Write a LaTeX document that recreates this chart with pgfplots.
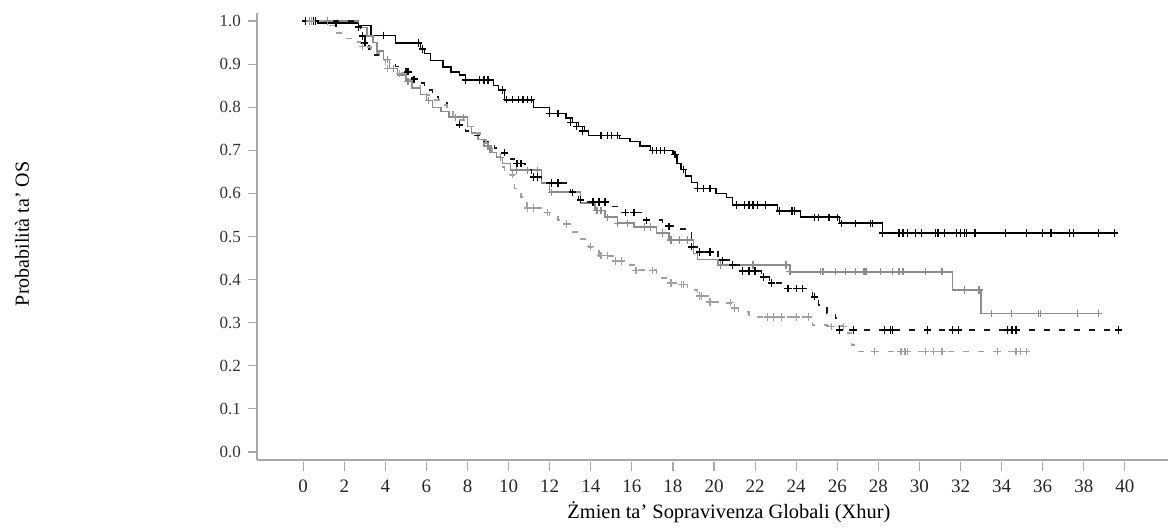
\documentclass[border=0pt]{standalone}
\usepackage{fontspec}
\setmainfont{Liberation Serif}
\usepackage{pgfplots}
\pgfplotsset{compat=1.18}

\definecolor{axisgray}{HTML}{A8A8A8}
\definecolor{curvegray}{HTML}{8C8C8C}
\definecolor{dashgray}{HTML}{A0A0A0}

\begin{document}
\begin{tikzpicture}
\useasboundingbox (-128.5pt,-35pt) rectangle (455.5pt,230pt);
\begin{axis}[
    at={(0,0)}, anchor=south west,
    scale only axis,
    width=455.5pt, height=223.5pt,
    xmin=-2.25, xmax=42.1,
    ymin=-0.0186, ymax=1.0186,
    axis x line*=bottom,
    axis y line*=left,
    axis line style={axisgray, line width=0.7pt},
    xtick={0,2,...,40},
    ytick={0,0.1,...,1.0},
    tick align=outside,
    major tick length=4.5pt,
    tick style={axisgray, line width=0.6pt},
    xtick style={yshift=-1.2pt},
    /pgf/number format/assume math mode=true,
    yticklabel style={/pgf/number format/.cd, fixed, fixed zerofill, precision=1,
        /tikz/.cd, font=\fontsize{8.5}{10}\selectfont, text=black!80},
    xticklabel style={font=\fontsize{9.5}{10}\selectfont, text=black!85, yshift=-2pt},
    xlabel={Żmien ta' Sopravivenza Globali (Xhur)},
    ylabel={Probabilità ta' OS},
    xlabel style={at={(axis description cs:0.518,-0.1163)}, anchor=center,
        font=\fontsize{10.2}{12}\selectfont},
    ylabel style={at={(axis description cs:-0.258,0.506)}, anchor=center,
        font=\fontsize{10}{12}\selectfont},
    clip=false,
]
% black solid
\addplot[const plot, black, line width=0.7pt] coordinates {
(0,1.0) (0.7,0.995) (2.7,0.99) (3.3,0.967) (4.5,0.949) (5.7,0.935) (5.9,0.925)
(6.2,0.909) (6.8,0.893) (7.2,0.882) (7.6,0.875) (7.9,0.863) (9.25,0.851) (9.5,0.84)
(9.8,0.817) (11.2,0.80) (12.0,0.786) (12.8,0.775) (13.1,0.765) (13.4,0.755)
(13.7,0.745) (13.9,0.735) (15.4,0.728) (15.9,0.72) (16.4,0.71) (16.9,0.70)
(18.0,0.69) (18.2,0.67) (18.4,0.655) (18.6,0.64) (18.9,0.625) (19.2,0.612)
(20.1,0.60) (20.6,0.59) (20.9,0.573) (23.1,0.559) (24.2,0.545) (26.1,0.531)
(28.2,0.508) (39.6,0.508)};
\addplot[only marks, mark=+, mark size=1.8pt, black, line width=0.6pt] coordinates {
(0.1,1) (0.6,1) (1.6,0.995) (3.9,0.967) (5.6,0.949) (5.8,0.935) (7.9,0.863)
(8.6,0.863) (8.8,0.863) (9.0,0.863) (9.7,0.84) (9.9,0.817) (10.2,0.817) (10.5,0.817)
(10.7,0.817) (10.9,0.817) (11.1,0.817) (12.0,0.786) (12.4,0.786) (13.0,0.765)
(13.3,0.755) (13.6,0.745) (14.5,0.735) (14.8,0.735) (15.0,0.735) (15.3,0.735)
(17.0,0.70) (17.2,0.70) (17.4,0.70) (17.6,0.70) (18.1,0.69) (18.5,0.655)
(19.2,0.612) (19.5,0.612) (19.8,0.612) (21.1,0.573) (21.5,0.573) (21.7,0.573)
(21.9,0.573) (22.1,0.573) (22.5,0.573) (23.2,0.559) (23.8,0.559) (23.9,0.559)
(24.9,0.545) (25.1,0.545) (25.6,0.545) (26.0,0.545) (26.2,0.531) (26.9,0.531)
(27.6,0.531) (27.7,0.531) (28.2,0.508) (29.0,0.508) (29.2,0.508) (29.4,0.508)
(29.8,0.508) (30.1,0.508) (30.8,0.508) (30.9,0.508) (31.2,0.508) (31.8,0.508)
(32.0,0.508) (32.2,0.508) (32.3,0.508) (32.7,0.508) (34.2,0.508) (35.2,0.508)
(36.0,0.508) (36.4,0.508) (37.3,0.508) (37.5,0.508) (38.7,0.508) (39.5,0.508)};
% gray solid
\addplot[const plot, curvegray, line width=0.7pt] coordinates {
(0,1.0) (2.7,0.985) (3.1,0.965) (3.4,0.95) (3.6,0.93) (3.9,0.91) (4.2,0.89)
(4.6,0.875) (5.0,0.86) (5.3,0.845) (5.7,0.83) (6.0,0.815) (6.3,0.80) (6.7,0.79)
(7.1,0.777) (8.0,0.755) (8.2,0.74) (8.5,0.725) (8.8,0.71) (9.1,0.695) (9.4,0.683)
(9.7,0.67) (10.1,0.654) (11.6,0.624) (12.0,0.603) (13.5,0.578) (14.2,0.56)
(14.7,0.545) (15.3,0.531) (16.1,0.522) (17.2,0.508) (17.8,0.492) (19.0,0.46)
(19.2,0.447) (20.2,0.434) (23.7,0.418) (31.6,0.376) (33.0,0.322) (38.8,0.322)};
\addplot[only marks, mark=+, mark size=1.8pt, curvegray, line width=0.6pt] coordinates {
(0.3,1) (1.2,1) (4.1,0.91) (4.4,0.89) (5.1,0.86) (6.1,0.815) (7.4,0.777) (7.8,0.777)
(9.0,0.71) (9.6,0.683) (10.4,0.654) (10.9,0.654) (11.4,0.654) (12.1,0.603)
(13.1,0.603) (14.3,0.56) (14.5,0.56) (14.8,0.545) (15.3,0.531) (15.8,0.531)
(16.6,0.522) (16.9,0.522) (17.5,0.508) (17.9,0.492) (18.3,0.492) (18.7,0.492)
(20.3,0.434) (20.9,0.434) (21.9,0.434) (23.5,0.434) (23.7,0.418) (25.2,0.418)
(25.3,0.418) (25.9,0.418) (26.4,0.418) (26.9,0.418) (27.3,0.418) (27.4,0.418)
(28.1,0.418) (28.7,0.418) (29.0,0.418) (29.2,0.418) (30.3,0.418) (31.1,0.418)
(32.2,0.376) (32.9,0.376) (33.5,0.322) (34.5,0.322) (35.8,0.322) (35.9,0.322)
(37.7,0.322) (38.7,0.322)};
% black dashed
\addplot[const plot, black!90, line width=0.7pt, dash pattern=on 3pt off 4.5pt] coordinates {
(0,1.0) (2.5,0.986) (2.8,0.965) (3.0,0.949) (3.2,0.935) (3.4,0.921) (3.9,0.91)
(4.5,0.895) (5.0,0.882) (5.3,0.865) (5.5,0.856) (5.9,0.84) (6.3,0.824) (6.6,0.81)
(7.0,0.795) (7.3,0.775) (7.6,0.759) (7.9,0.745) (8.2,0.735) (8.7,0.72) (9.3,0.705)
(9.7,0.694) (10.0,0.68) (10.3,0.67) (10.8,0.655) (11.1,0.638) (11.6,0.624)
(13.0,0.603) (13.4,0.585) (13.8,0.58) (15.0,0.569) (15.5,0.555) (16.6,0.538)
(17.5,0.524) (18.2,0.517) (18.6,0.508) (18.9,0.476) (19.2,0.464) (20.2,0.445)
(20.8,0.434) (21.3,0.42) (22.3,0.406) (22.7,0.392) (23.5,0.38) (24.8,0.36)
(25.1,0.341) (25.5,0.322) (25.9,0.311) (26.1,0.283) (39.7,0.283)};
\addplot[only marks, mark=+, mark size=1.8pt, black, line width=0.7pt] coordinates {
(0.5,1) (2.7,0.986) (2.9,0.965) (3.0,0.949) (5.1,0.882) (5.4,0.865) (7.6,0.759)
(9.8,0.694) (10.4,0.67) (10.6,0.67) (11.2,0.638) (11.4,0.638) (12.1,0.624)
(12.4,0.624) (13.1,0.603) (13.5,0.585) (14.1,0.58) (14.4,0.58) (14.7,0.58)
(15.7,0.555) (16.1,0.555) (16.7,0.538) (17.8,0.524) (18.9,0.476) (19.3,0.464)
(19.8,0.464) (20.4,0.445) (20.9,0.434) (21.4,0.42) (21.7,0.42) (22.0,0.42)
(22.4,0.406) (22.8,0.392) (23.6,0.38) (24.0,0.38) (24.3,0.38) (24.9,0.36)
(26.1,0.283) (26.8,0.283) (28.3,0.283) (28.6,0.283) (28.7,0.283) (30.4,0.283)
(31.6,0.283) (31.9,0.283) (34.3,0.283) (34.5,0.283) (34.7,0.283) (39.7,0.283)};
% gray dashed
\addplot[const plot, dashgray, line width=0.7pt, dash pattern=on 3pt off 4.5pt] coordinates {
(0,1.0) (1.1,0.99) (1.6,0.972) (2.0,0.96) (2.4,0.951) (2.8,0.94) (3.3,0.926)
(3.7,0.909) (4.0,0.89) (4.6,0.879) (5.0,0.863) (5.4,0.85) (5.7,0.84) (6.0,0.828)
(6.3,0.817) (6.7,0.805) (7.0,0.793) (7.3,0.78) (7.5,0.77) (7.9,0.755) (8.3,0.74)
(8.6,0.725) (8.9,0.708) (9.2,0.684) (9.6,0.661) (9.8,0.65) (10.1,0.643)
(10.3,0.612) (10.6,0.592) (10.9,0.566) (11.8,0.555) (12.0,0.545) (12.4,0.538)
(12.7,0.529) (13.1,0.51) (13.5,0.494) (13.9,0.476) (14.4,0.455) (15.1,0.443)
(15.8,0.434) (16.1,0.422) (17.2,0.404) (17.8,0.392) (18.3,0.388) (18.7,0.376)
(19.2,0.362) (19.7,0.348) (20.2,0.346) (20.9,0.334) (21.2,0.325) (21.7,0.313)
(24.8,0.295) (25.5,0.292) (26.5,0.276) (26.7,0.248) (26.9,0.233) (35.2,0.233)};
\addplot[only marks, mark=+, mark size=1.8pt, dashgray, line width=0.6pt] coordinates {
(0.4,1) (2.9,0.94) (4.1,0.89) (4.7,0.879) (10.2,0.643) (10.9,0.566) (11.2,0.566)
(11.9,0.555) (12.8,0.529) (14.0,0.476) (14.5,0.455) (14.8,0.455) (15.2,0.443)
(15.5,0.443) (16.2,0.422) (17.0,0.422) (17.9,0.392) (18.4,0.388) (18.5,0.388)
(19.3,0.362) (19.4,0.362) (19.8,0.348) (20.8,0.346) (21.0,0.334) (22.6,0.313)
(22.9,0.313) (23.3,0.313) (24.0,0.313) (24.6,0.313) (25.7,0.292) (26.3,0.292)
(27.8,0.233) (29.1,0.233) (29.3,0.233) (29.4,0.233) (30.3,0.233) (30.7,0.233)
(31.1,0.233) (33.8,0.233) (34.7,0.233) (34.9,0.233) (35.2,0.233)};
\end{axis}
\end{tikzpicture}
\end{document}
